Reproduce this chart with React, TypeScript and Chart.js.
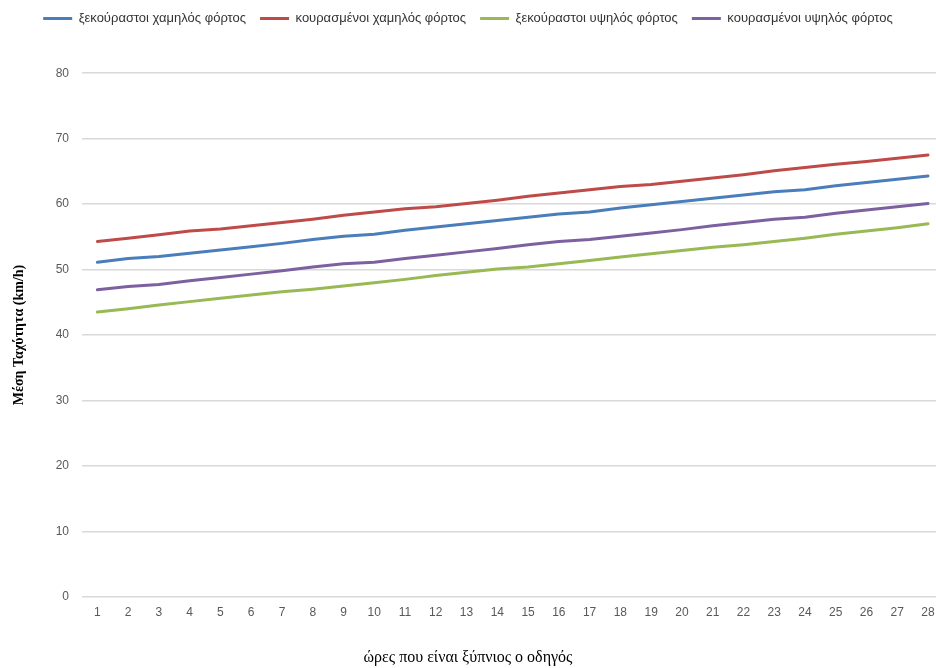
import React, { useEffect, useRef } from "react";
import { Chart, registerables } from "chart.js";

Chart.register(...registerables);

const hours = [1, 2, 3, 4, 5, 6, 7, 8, 9, 10, 11, 12, 13, 14, 15, 16, 17, 18, 19, 20, 21, 22, 23, 24, 25, 26, 27, 28];

const restedLow = [51.1, 51.7, 52.0, 52.5, 53.0, 53.5, 54.0, 54.6, 55.1, 55.4, 56.0, 56.5, 57.0, 57.5, 58.0, 58.5, 58.8, 59.4, 59.9, 60.4, 60.9, 61.4, 61.9, 62.2, 62.8, 63.3, 63.8, 64.3];
const tiredLow = [54.3, 54.8, 55.3, 55.9, 56.2, 56.7, 57.2, 57.7, 58.3, 58.8, 59.3, 59.6, 60.1, 60.6, 61.2, 61.7, 62.2, 62.7, 63.0, 63.5, 64.0, 64.5, 65.1, 65.6, 66.1, 66.5, 67.0, 67.5];
const restedHigh = [43.5, 44.0, 44.6, 45.1, 45.6, 46.1, 46.6, 47.0, 47.5, 48.0, 48.5, 49.1, 49.6, 50.1, 50.4, 50.9, 51.4, 51.9, 52.4, 52.9, 53.4, 53.8, 54.3, 54.8, 55.4, 55.9, 56.4, 57.0];
const tiredHigh = [46.9, 47.4, 47.7, 48.3, 48.8, 49.3, 49.8, 50.4, 50.9, 51.1, 51.7, 52.2, 52.7, 53.2, 53.8, 54.3, 54.6, 55.1, 55.6, 56.1, 56.7, 57.2, 57.7, 58.0, 58.6, 59.1, 59.6, 60.1];

const seriesNames = [
  "ξεκούραστοι χαμηλός φόρτος",
  "κουρασμένοι χαμηλός φόρτος",
  "ξεκούραστοι υψηλός φόρτος",
  "κουρασμένοι υψηλός φόρτος",
];
const seriesValues = [restedLow, tiredLow, restedHigh, tiredHigh];
const seriesColors = ["#4A7EBB", "#BE4B48", "#98B954", "#7D60A0"];

const yTitle = "Μέση Ταχύτητα (km/h)";
const xTitle = "ώρες που είναι ξύπνιος ο οδηγός";

export default function App() {
  const canvasRef = useRef<HTMLCanvasElement | null>(null);

  useEffect(() => {
    document.body.style.margin = "0";
    const canvas = canvasRef.current;
    if (!canvas) return;
    const chart = new Chart(canvas, {
      type: "line",
      data: {
        datasets: seriesNames.map((name, i) => ({
          label: name,
          data: hours.map((h, j) => ({ x: h, y: seriesValues[i][j] })),
          borderColor: seriesColors[i],
          backgroundColor: seriesColors[i],
          borderWidth: 3,
          pointRadius: 0,
          tension: 0,
          fill: false,
          borderCapStyle: "round",
          borderJoinStyle: "round",
        })),
      },
      options: {
        responsive: false,
        animation: false,
        layout: { padding: { top: -2, left: 0, right: 0, bottom: 0 } },
        plugins: {
          tooltip: { enabled: false },
          legend: {
            position: "top",
            weight: 3000,
            labels: {
              boxWidth: 29,
              boxHeight: 3,
              padding: 14,
              color: "#333333",
              font: { family: "'Liberation Sans Narrow', 'Liberation Sans', sans-serif", size: 13 },
              generateLabels: (c: any) =>
                Chart.defaults.plugins.legend.labels
                  .generateLabels(c)
                  .map((l: any) => ({ ...l, lineWidth: 0 })),
            },
          },
          title: {
            display: true,
            text: "",
            font: { size: 1 },
            padding: { top: 37, bottom: 0 },
          },
          subtitle: {
            display: true,
            position: "bottom",
            text: xTitle,
            color: "#000000",
            font: { family: "'Liberation Serif', 'DejaVu Serif', serif", size: 16, weight: "normal" },
            padding: { top: 11, bottom: 1 },
          },
        },
        scales: {
          x: {
            type: "linear",
            min: 0.5,
            max: 28.26,
            grid: { display: false, drawTicks: false },
            border: { display: false },
            afterBuildTicks: (scale: any) => {
              scale.ticks = hours.map((h) => ({ value: h }));
            },
            afterFit: (scale: any) => {
              scale.height = 40;
              scale.paddingLeft = 0;
              scale.paddingRight = 0;
            },
            ticks: {
              autoSkip: false,
              maxRotation: 0,
              padding: 9,
              color: "#595959",
              font: { family: "'Liberation Sans Narrow', 'Liberation Sans', sans-serif", size: 12 },
            },
          },
          y: {
            min: 0,
            max: 80,
            grid: { color: "#D9D9D9", lineWidth: 1.5, drawTicks: false },
            border: { display: false },
            afterFit: (scale: any) => {
              scale.width = 82;
            },
            ticks: {
              stepSize: 10,
              padding: 13,
              color: "#595959",
              font: { family: "'Liberation Sans', sans-serif", size: 12 },
            },
            title: {
              display: true,
              text: yTitle,
              color: "#000000",
              padding: { top: 11, bottom: 0 },
              font: { family: "'Liberation Serif', 'DejaVu Serif', serif", size: 14, weight: "bold" },
            },
          },
        },
      },
    });
    return () => chart.destroy();
  }, []);

  return (
    <div style={{ width: 936, height: 668 }}>
      <canvas ref={canvasRef} width={936} height={668} />
    </div>
  );
}
